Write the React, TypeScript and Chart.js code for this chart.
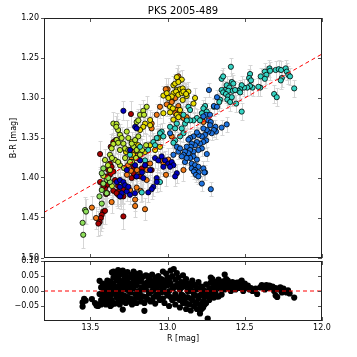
import React, { useEffect, useRef } from "react";
import { Chart, registerables } from "chart.js";
Chart.register(...registerables);

const chartTitle = "PKS 2005-489";
const xTitle = "R [mag]";
const yTitleTop = "B-R [mag]";
const xTicks = [13.5, 13.0, 12.5, 12.0];
const yTicksTop = [1.2, 1.25, 1.3, 1.35, 1.4, 1.45, 1.5];
const yTicksBottom = [-0.05, 0.0, 0.05, 0.1];
const fitLine = [[13.8, 1.443], [12.0, 1.245]];
const zeroLine = [[13.8, 0], [12.0, 0]];

const cyanPts = [[12.59,1.261],[12.65,1.276],[12.64,1.273],[12.466,1.270],[12.472,1.275],[12.46,1.278],[12.397,1.273],[12.37,1.267],[12.36,1.271],[12.37,1.276],[12.34,1.263],[12.336,1.266],[12.30,1.265],[12.28,1.264],[12.265,1.265],[12.235,1.263],[12.228,1.267],[12.218,1.271],[12.207,1.273],[12.26,1.275],[12.267,1.278],[12.18,1.288],[12.31,1.295],[12.293,1.299],[12.40,1.287],[12.412,1.286],[12.45,1.287],[12.466,1.285],[12.484,1.287],[12.505,1.287],[12.52,1.284],[12.53,1.289],[12.54,1.291],[12.53,1.293],[12.584,1.280],[12.574,1.282],[12.617,1.284],[12.60,1.287],[12.628,1.29],[12.607,1.291],[12.578,1.291],[12.563,1.29],[12.65,1.29],[12.64,1.293],[12.622,1.295],[12.607,1.298],[12.613,1.302],[12.595,1.305],[12.584,1.299],[12.556,1.307],[12.52,1.317],[12.66,1.302],[12.665,1.305],[12.70,1.311],[12.757,1.31],[12.768,1.313],[12.746,1.317],[12.778,1.319],[12.81,1.325],[12.832,1.328],[12.79,1.328],[12.854,1.328],[12.887,1.332],[12.908,1.338],[12.897,1.344],[12.919,1.348],[12.951,1.353],[12.962,1.356],[12.865,1.311],[12.854,1.315],[12.897,1.321],[12.875,1.328],[12.94,1.332],[12.984,1.336],[12.951,1.338],[13.038,1.342],[13.049,1.344],[13.027,1.348],[13.07,1.350],[13.092,1.355],[13.081,1.359],[13.125,1.365],[13.178,1.361],[13.243,1.371],[13.146,1.378],[13.167,1.418],[13.049,1.405]];
const bluePts = [[12.732,1.29],[12.68,1.299],[12.70,1.31],[12.68,1.311],[12.75,1.321],[12.768,1.323],[12.725,1.321],[12.736,1.328],[12.72,1.33],[12.65,1.337],[12.617,1.333],[12.69,1.336],[12.725,1.334],[12.686,1.342],[12.70,1.34],[12.714,1.344],[12.736,1.342],[12.746,1.34],[12.768,1.338],[12.757,1.346],[12.778,1.348],[12.80,1.346],[12.81,1.343],[12.832,1.348],[12.854,1.35],[12.865,1.352],[12.75,1.353],[12.768,1.355],[12.79,1.357],[12.81,1.355],[12.822,1.359],[12.844,1.357],[12.85,1.361],[12.876,1.361],[12.778,1.363],[12.80,1.365],[12.832,1.367],[12.854,1.365],[12.865,1.369],[12.887,1.367],[12.897,1.371],[12.746,1.37],[12.832,1.373],[12.854,1.375],[12.81,1.377],[12.844,1.382],[12.822,1.384],[12.80,1.386],[12.844,1.388],[12.822,1.39],[12.81,1.394],[12.80,1.393],[12.757,1.393],[12.768,1.388],[12.887,1.38],[12.876,1.375],[12.908,1.373],[12.93,1.367],[12.94,1.361],[12.919,1.363],[12.962,1.371],[12.83,1.392],[12.816,1.396],[12.80,1.398],[12.762,1.393],[12.778,1.407],[12.72,1.414],[12.984,1.344]];
const navyPts = [[13.081,1.375],[13.06,1.378],[13.038,1.373],[13.016,1.378],[12.995,1.382],[12.973,1.38],[12.962,1.384],[12.984,1.386],[13.027,1.386],[12.94,1.394],[12.951,1.398],[13.07,1.40],[13.07,1.405],[13.092,1.411],[13.103,1.414],[13.125,1.418],[13.2,1.398],[13.157,1.40],[13.329,1.405],[13.308,1.4025],[13.286,1.405],[13.308,1.411],[13.275,1.409],[13.297,1.419],[13.308,1.423],[13.264,1.417],[13.243,1.421],[13.211,1.419],[13.254,1.411],[13.286,1.316],[13.21,1.336],[13.2,1.338],[13.243,1.365],[13.178,1.378],[13.113,1.39],[13.146,1.384],[13.21,1.384],[13.165,1.393],[13.264,1.39]];
const darkRedPts = [[13.437,1.37],[13.237,1.32],[13.334,1.3525],[13.373,1.382],[13.362,1.386],[13.384,1.39],[13.351,1.392],[13.373,1.396],[13.394,1.398],[13.394,1.409],[13.405,1.413],[13.39,1.419],[13.398,1.42],[13.416,1.442],[13.405,1.441],[13.426,1.446],[13.432,1.45],[13.44,1.455],[13.448,1.457],[13.286,1.448],[13.32,1.421],[13.286,1.423],[13.32,1.417],[13.437,1.405],[13.416,1.41],[13.351,1.416],[13.32,1.41],[13.33,1.419],[13.303,1.423],[13.286,1.415],[13.34,1.4025],[13.232,1.40],[13.204,1.398],[13.368,1.361],[13.351,1.355],[13.221,1.394],[13.178,1.398],[13.2,1.375],[13.135,1.382],[13.221,1.386],[13.167,1.388],[13.103,1.39]];
const orangePts = [[12.93,1.273],[13.0,1.289],[13.005,1.308],[12.966,1.302],[12.95,1.30],[12.973,1.305],[12.93,1.31],[12.94,1.315],[12.95,1.319],[12.924,1.319],[12.897,1.325],[12.876,1.324],[12.778,1.327],[12.768,1.33],[12.973,1.348],[12.897,1.39],[13.221,1.367],[13.2,1.3725],[13.232,1.375],[13.027,1.381],[12.995,1.377],[13.01,1.396],[13.135,1.4025],[13.2,1.412],[13.21,1.427],[13.21,1.435],[13.146,1.439],[13.243,1.415],[13.362,1.43],[13.49,1.437],[13.463,1.45],[13.174,1.416],[13.237,1.391],[13.178,1.3925],[13.133,1.39],[13.263,1.396],[13.198,1.39],[13.256,1.384],[13.113,1.382],[13.049,1.378],[13.103,1.332],[13.049,1.311],[13.012,1.289],[13.103,1.338],[13.07,1.321]];
const yellowPts = [[12.962,1.284],[12.951,1.282],[12.924,1.278],[12.908,1.277],[12.94,1.29],[12.919,1.289],[12.902,1.288],[12.962,1.294],[12.945,1.292],[12.93,1.296],[12.908,1.294],[12.887,1.293],[12.876,1.2975],[12.865,1.292],[12.822,1.30],[13.027,1.319],[12.94,1.321],[12.93,1.324],[12.962,1.327],[12.919,1.315],[12.984,1.311],[12.966,1.313],[12.902,1.3025],[12.832,1.307],[12.94,1.274],[12.93,1.28],[12.897,1.292],[12.88,1.295],[12.973,1.298],[13.232,1.355],[13.21,1.357],[13.221,1.361],[13.189,1.359],[13.2,1.365],[13.113,1.3275],[13.146,1.332],[13.157,1.336],[13.178,1.34],[13.113,1.334],[13.027,1.297],[13.005,1.294],[12.995,1.30],[12.984,1.318],[13.269,1.3675],[13.224,1.371],[13.146,1.3675],[13.113,1.359],[13.081,1.365],[13.049,1.361],[13.06,1.35]];
const limePts = [[13.351,1.332],[13.33,1.3325],[13.32,1.34],[13.308,1.346],[13.33,1.3525],[13.32,1.356],[13.297,1.35],[13.351,1.3575],[13.362,1.363],[13.264,1.342],[13.254,1.35],[13.286,1.357],[13.275,1.363],[13.308,1.365],[13.254,1.365],[13.221,1.361],[13.232,1.357],[13.21,1.3525],[13.2,1.365],[13.2,1.33],[13.189,1.348],[13.332,1.336],[13.178,1.321],[13.157,1.316],[13.135,1.311],[13.152,1.321],[13.189,1.328],[13.373,1.371],[13.34,1.3775],[13.275,1.375],[13.178,1.371],[13.23,1.38],[13.308,1.384],[13.373,1.39],[13.405,1.3775],[13.386,1.384],[13.36,1.375],[13.32,1.38],[13.282,1.3875],[13.243,1.38],[13.204,1.375],[13.165,1.365],[13.139,1.359],[13.416,1.3975],[13.36,1.41]];
const greenPts = [[13.416,1.388],[13.426,1.394],[13.394,1.4025],[13.373,1.405],[13.416,1.407],[13.426,1.415],[13.441,1.423],[13.394,1.419],[13.384,1.40],[13.534,1.44],[13.528,1.442],[13.55,1.456],[13.546,1.471],[13.426,1.432]];

const residuals = [[13.55,-0.038],[13.55,-0.052],[13.54,-0.026],[13.53,-0.032],[13.49,-0.027],[13.47,-0.04],[13.46,-0.048],[13.45,-0.05],[13.44,0.034],[13.44,-0.044],[13.43,-0.03],
[13.43,0.012],[13.42,-0.008],[13.42,-0.02],[13.41,0.005],[13.41,-0.035],[13.40,-0.012],[13.40,0.018],[13.40,-0.045],[13.39,0.0],[13.39,-0.025],[13.38,0.02],[13.38,-0.038],[13.38,0.008],[13.37,-0.015],[13.37,0.032],[13.37,-0.05],
[13.36,0.062],[13.36,0.01],[13.36,-0.03],[13.35,0.045],[13.35,-0.005],[13.35,0.025],[13.34,-0.042],[13.34,0.058],[13.34,0.015],[13.33,-0.02],[13.33,0.035],[13.33,0.0],[13.32,0.07],[13.32,-0.035],[13.32,0.048],[13.31,0.02],[13.31,-0.01],[13.31,-0.045],[13.30,0.055],[13.30,0.03],[13.30,-0.025],[13.29,0.01],[13.29,0.068],[13.29,-0.062],[13.28,0.04],[13.28,-0.015],[13.28,0.022],
[13.27,0.05],[13.27,-0.04],[13.27,0.005],[13.26,0.03],[13.26,-0.02],[13.26,0.063],[13.25,0.015],[13.25,-0.035],[13.24,0.045],[13.24,-0.005],[13.24,0.025],[13.23,-0.045],[13.23,0.055],[13.22,0.01],[13.22,-0.028],[13.22,0.038],[13.21,0.058],[13.21,-0.01],[13.20,0.02],[13.20,-0.04],[13.20,0.045],[13.19,0.0],[13.19,-0.022],[13.18,0.032],[13.18,0.06],[13.17,-0.035],[13.17,0.012],
[13.16,0.048],[13.16,-0.018],[13.15,-0.066],[13.15,0.025],[13.15,-0.04],[13.14,0.005],[13.14,0.052],[13.13,-0.028],[13.13,0.03],[13.12,-0.008],[13.12,0.042],[13.11,0.018],[13.11,-0.035],[13.10,0.0],[13.10,0.055],[13.09,-0.02],[13.09,0.028],[13.08,0.045],[13.08,-0.042],[13.07,0.01],[13.07,-0.012],[13.06,0.035],[13.06,0.05],[13.05,-0.03],[13.05,0.02],[13.04,-0.005],[13.04,0.04],[13.03,0.065],[13.03,-0.025],
[13.02,0.015],[13.02,-0.04],[13.01,0.058],[13.01,0.03],[13.00,-0.015],[13.00,0.045],[12.99,0.0],[12.99,-0.05],[12.98,0.068],[12.98,0.025],[12.97,-0.03],[12.97,0.05],[12.96,0.01],[12.96,0.073],[12.95,-0.01],[12.95,0.038],[12.95,-0.045],[12.94,0.06],[12.94,0.02],
[12.93,-0.025],[12.93,0.045],[12.92,0.005],[12.92,-0.055],[12.91,0.03],[12.91,-0.012],[12.90,0.052],[12.90,-0.04],[12.89,0.015],[12.89,-0.03],[12.88,-0.06],[12.88,0.04],[12.87,0.0],[12.87,-0.02],[12.86,0.025],[12.86,-0.045],[12.85,0.01],[12.85,-0.065],[12.84,-0.03],[12.84,0.035],[12.83,-0.01],[12.83,-0.05],[12.82,0.02],[12.82,-0.038],
[12.81,-0.06],[12.81,0.005],[12.80,-0.025],[12.80,0.03],[12.79,-0.045],[12.79,-0.075],[12.78,-0.01],[12.78,0.015],[12.77,-0.035],[12.77,-0.055],[12.76,0.0],[12.76,-0.02],[12.75,-0.04],[12.75,0.022],[12.74,-0.092],[12.74,-0.015],
[12.73,0.01],[12.73,-0.03],[12.72,0.028],[12.72,-0.01],[12.71,0.0],[12.71,0.04],[12.70,-0.022],[12.70,0.015],[12.69,0.03],[12.69,-0.005],[12.68,0.02],[12.68,-0.018],[12.67,0.038],[12.67,-0.018],[12.66,0.008],[12.66,0.022],[12.65,-0.012],[12.64,0.032],[12.64,0.015],[12.63,0.055],[12.63,0.005],
[12.62,0.02],[12.61,0.01],[12.61,0.035],[12.60,0.025],[12.59,0.0],[12.59,0.018],[12.58,0.03],[12.57,0.012],[12.56,0.022],[12.56,0.005],[12.55,0.028],[12.54,0.015],[12.53,0.01],[12.53,0.03],[12.52,0.02],[12.51,0.0],[12.50,0.025],[12.49,0.012],[12.48,0.018],[12.47,0.005],[12.46,0.01],[12.45,0.0],
[12.43,0.008],[12.42,-0.01],[12.40,0.012],[12.39,0.02],[12.38,0.015],[12.37,0.005],[12.36,0.02],[12.35,0.01],[12.34,0.018],[12.33,0.012],[12.32,0.015],[12.31,0.0],[12.30,0.01],[12.30,-0.015],[12.29,-0.02],[12.28,0.005],[12.27,0.012],[12.26,-0.005],[12.25,0.008],[12.24,0.0],
[12.23,-0.005],[12.22,0.002],[12.21,-0.008],[12.18,-0.022],
[13.44,-0.01],[13.43,-0.045],[13.42,0.025],[13.41,-0.02],[13.40,0.0],[13.39,0.035],[13.38,-0.005],[13.37,0.0],[13.36,-0.045],[13.35,0.065],[13.34,-0.01],[13.33,0.052],[13.32,0.005],[13.31,0.035],[13.30,0.0],[13.29,-0.035],[13.28,0.058],[13.27,-0.02],[13.26,0.045],[13.25,0.0],[13.24,-0.025],[13.23,0.02],[13.22,0.065],[13.21,0.03],[13.20,-0.015],[13.19,0.045],[13.18,-0.01],[13.17,0.04],[13.16,0.005],[13.15,0.01],[13.14,-0.02],[13.13,0.05],[13.12,0.02],[13.11,0.035],[13.10,-0.03],[13.09,0.005],[13.08,0.02],[13.07,0.03],[13.06,-0.02],[13.05,0.0],[13.04,0.025],[13.03,0.005],[13.02,0.035],[13.01,-0.005],[13.00,0.02],[12.99,0.035],[12.98,-0.02],[12.97,0.015],[12.96,-0.025],[12.95,0.015],[12.94,-0.02],[12.93,0.025],[12.92,-0.03],[12.91,0.012],[12.90,-0.015],[12.89,0.03],[12.88,-0.04],[12.87,0.02],[12.86,0.0],[12.85,-0.025],[12.84,0.0],[12.83,0.02],[12.82,-0.015],[12.81,-0.04],[12.80,0.01],[12.79,-0.015],[12.78,-0.06],[12.77,0.005],[12.76,-0.045],[12.75,-0.01],[12.73,-0.01],[12.72,0.045],[12.71,-0.018],[12.70,0.03],[12.69,0.01],[12.67,0.02],[12.65,0.03],[12.62,0.04],[12.58,0.015],[12.55,0.01],[12.52,0.035],[12.50,0.01]];

const groupNames = ["navy", "blue", "cyan", "green", "lime", "yellow", "orange", "darkred"];
const groupColors = ["#0000c0", "#1e73e0", "#35d4c4", "#8ee05a", "#bce632", "#e8dc00", "#f07814", "#a80000"];
const groupErrors = [0.012, 0.009, 0.011, 0.016, 0.014, 0.012, 0.014, 0.016];
const groupPoints = [navyPts, bluePts, cyanPts, greenPts, limePts, yellowPts, orangePts, darkRedPts];

const W = 357, H = 357;
const PLOT_LEFT = 44, PLOT_RIGHT = 322;
const TOP_T = 18, TOP_B = 258, BOT_T = 261, BOT_B = 321;
const FONT = "'DejaVu Sans', sans-serif";

const toXY = (arr: number[][]) => arr.map(([x, y]) => ({ x, y }));

function errorBarPlugin(errs: Record<string, number>) {
  return {
    id: "errbars",
    beforeDatasetsDraw(chart: any) {
      const { ctx, scales } = chart;
      const xs = scales.x, ys = scales.y;
      ctx.save();
      ctx.strokeStyle = "#d6d6d6";
      ctx.lineWidth = 1;
      chart.data.datasets.forEach((ds: any) => {
        const e = errs[ds.label];
        if (!e) return;
        ds.data.forEach((p: any) => {
          const px = Math.round(xs.getPixelForValue(p.x)) + 0.5;
          const y1 = Math.round(ys.getPixelForValue(p.y - e)) + 0.5;
          const y2 = Math.round(ys.getPixelForValue(p.y + e)) + 0.5;
          ctx.beginPath();
          ctx.moveTo(px, y1); ctx.lineTo(px, y2);
          ctx.moveTo(px - 2, y1); ctx.lineTo(px + 2, y1);
          ctx.moveTo(px - 2, y2); ctx.lineTo(px + 2, y2);
          ctx.stroke();
        });
      });
      ctx.restore();
    },
  };
}

function framePlugin(yTicks: number[], withTitle: boolean) {
  return {
    id: "frame",
    afterDraw(chart: any) {
      const { ctx, chartArea: a, scales } = chart;
      ctx.save();
      ctx.strokeStyle = "#555";
      ctx.lineWidth = 1;
      ctx.beginPath();
      for (const v of xTicks) {
        const px = Math.round(scales.x.getPixelForValue(v)) + 0.5;
        ctx.moveTo(px, a.top); ctx.lineTo(px, a.top + 4);
        ctx.moveTo(px, a.bottom); ctx.lineTo(px, a.bottom - 4);
      }
      for (const v of yTicks) {
        const py = Math.round(scales.y.getPixelForValue(v)) + 0.5;
        ctx.moveTo(a.right, py); ctx.lineTo(a.right - 4, py);
      }
      ctx.stroke();
      ctx.strokeStyle = "#222";
      ctx.strokeRect(a.left + 0.5, a.top + 0.5, a.right - a.left - 1, a.bottom - a.top - 1);
      if (withTitle) {
        ctx.fillStyle = "#000";
        ctx.font = `10px ${FONT}`;
        ctx.textAlign = "center";
        ctx.textBaseline = "middle";
        ctx.fillText(chartTitle, (a.left + a.right) / 2, 11);
      }
      ctx.restore();
    },
  };
}

const fmt2 = (v: number) => v.toFixed(2).replace("-", "\u2212");

export default function App() {
  const topRef = useRef<HTMLCanvasElement>(null);
  const botRef = useRef<HTMLCanvasElement>(null);

  useEffect(() => {
    Chart.defaults.font.family = FONT;
    Chart.defaults.font.size = 8;
    Chart.defaults.color = "#000";

    const errs: Record<string, number> = {};
    groupNames.forEach((n, i) => (errs[n] = groupErrors[i]));

    const pointSets = groupNames.map((n, i) => ({
      label: n,
      data: toXY(groupPoints[i]),
      backgroundColor: groupColors[i],
      borderColor: "#000",
      borderWidth: 0.8,
      pointRadius: 2.6,
      order: 1,
    }));

    const top = new Chart(topRef.current!, {
      type: "scatter",
      data: {
        datasets: [
          {
            label: "fit",
            data: toXY(fitLine),
            showLine: true,
            borderColor: "#ff0000",
            borderWidth: 1,
            borderDash: [4, 3],
            pointRadius: 0,
            order: 0,
          } as any,
          ...pointSets,
        ],
      },
      options: {
        responsive: false,
        animation: false,
        events: [],
        layout: { padding: { top: TOP_T, right: W - PLOT_RIGHT, left: 0, bottom: 0 } },
        plugins: { legend: { display: false }, tooltip: { enabled: false }, title: { display: false } },
        scales: {
          x: {
            type: "linear",
            reverse: true,
            min: 12.0,
            max: 13.8,
            afterBuildTicks: (s: any) => { s.ticks = xTicks.map((v) => ({ value: v })); },
            afterFit: (s: any) => { s.height = H - TOP_B; },
            ticks: { display: false },
            grid: { display: false },
            border: { display: false },
          },
          y: {
            type: "linear",
            reverse: true,
            min: 1.2,
            max: 1.5,
            afterBuildTicks: (s: any) => { s.ticks = yTicksTop.map((v) => ({ value: v })); },
            afterFit: (s: any) => { s.width = PLOT_LEFT; },
            ticks: { padding: 2, callback: (v: any) => Number(v).toFixed(2), font: { size: 8 } },
            grid: { display: true, drawOnChartArea: false, drawTicks: true, tickLength: 3, color: "#555" },
            border: { display: false },
            title: { display: true, text: yTitleTop, padding: { top: 9, bottom: 0 }, font: { size: 8 } },
          },
        },
      },
      plugins: [errorBarPlugin(errs), framePlugin(yTicksTop, true)],
    } as any);

    const bot = new Chart(botRef.current!, {
      type: "scatter",
      data: {
        datasets: [
          {
            label: "zero",
            data: toXY(zeroLine),
            showLine: true,
            borderColor: "#ff0000",
            borderWidth: 1,
            borderDash: [4, 3],
            pointRadius: 0,
            order: 0,
          } as any,
          {
            label: "resid",
            data: toXY(residuals),
            backgroundColor: "#000",
            borderWidth: 0,
            pointRadius: 3.1,
            order: 1,
          },
        ],
      },
      options: {
        responsive: false,
        animation: false,
        events: [],
        layout: { padding: { top: BOT_T, right: W - PLOT_RIGHT, left: 0, bottom: 0 } },
        plugins: { legend: { display: false }, tooltip: { enabled: false }, title: { display: false } },
        scales: {
          x: {
            type: "linear",
            reverse: true,
            min: 12.0,
            max: 13.8,
            afterBuildTicks: (s: any) => { s.ticks = xTicks.map((v) => ({ value: v })); },
            afterFit: (s: any) => { s.height = H - BOT_B; },
            ticks: { padding: 2, maxRotation: 0, callback: (v: any) => Number(v).toFixed(1), font: { size: 8 } },
            grid: { display: false, drawTicks: false },
            border: { display: false },
            title: { display: true, text: xTitle, padding: { top: 0, bottom: 13 }, font: { size: 8 } },
          },
          y: {
            type: "linear",
            min: -0.1,
            max: 0.1,
            afterBuildTicks: (s: any) => { s.ticks = yTicksBottom.map((v) => ({ value: v })); },
            afterFit: (s: any) => { s.width = PLOT_LEFT; },
            ticks: { padding: 2, callback: (v: any) => fmt2(Number(v)), font: { size: 8 } },
            grid: { display: true, drawOnChartArea: false, drawTicks: true, tickLength: 3, color: "#555" },
            border: { display: false },
          },
        },
      },
      plugins: [framePlugin(yTicksBottom, false)],
    } as any);

    return () => {
      top.destroy();
      bot.destroy();
    };
  }, []);

  return (
    <div style={{ position: "fixed", left: 0, top: 0, width: W, height: H, background: "#fff" }}>
      <canvas ref={botRef} width={W} height={H} style={{ position: "absolute", left: 0, top: 0 }} />
      <canvas ref={topRef} width={W} height={H} style={{ position: "absolute", left: 0, top: 0 }} />
    </div>
  );
}
